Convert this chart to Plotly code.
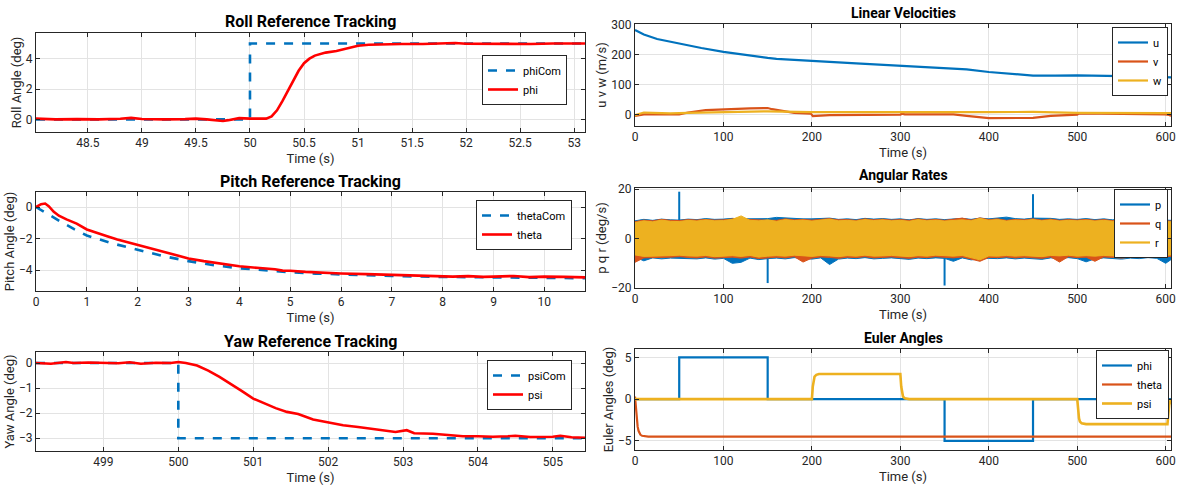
import plotly.graph_objects as go

# ---------------- data ----------------
# Roll reference tracking
roll_cmd_t = [48.02, 50.0, 50.0, 53.1]
roll_cmd = [0, 0, 5, 5]
roll_t = [48.02, 48.2, 48.4, 48.6, 48.8, 48.9, 49.0, 49.2, 49.4, 49.5, 49.6, 49.7, 49.75, 49.8,
          49.9, 50.0, 50.1, 50.15, 50.2, 50.25, 50.3, 50.35, 50.4, 50.45, 50.5, 50.55, 50.6, 50.7,
          50.8, 50.9, 51.0, 51.1, 51.2, 51.4, 51.6, 51.8, 51.9, 52.0, 52.2, 52.4, 52.6, 52.8, 53.0, 53.1]
roll_phi = [0.05, 0.0, 0.02, 0.0, 0.04, 0.1, 0.03, 0.0, 0.02, 0.05, 0.0, -0.06, -0.1, -0.05,
            0.08, 0.05, 0.02, 0.05, 0.2, 0.6, 1.2, 1.9, 2.6, 3.2, 3.7, 4.0, 4.2, 4.4,
            4.5, 4.68, 4.85, 4.92, 4.95, 4.97, 4.97, 5.0, 5.03, 4.98, 4.97, 5.0, 4.97, 5.0, 4.98, 5.0]

# Pitch reference tracking
pitch_cmd_t = [0, 0.25, 0.5, 0.75, 1, 1.5, 2, 2.5, 3, 3.5, 4, 4.5, 5, 5.5, 6, 7, 8, 9, 10, 10.8]
pitch_cmd = [0, -0.5, -0.95, -1.4, -1.8, -2.3, -2.72, -3.1, -3.42, -3.68, -3.87, -4.02, -4.13,
             -4.21, -4.27, -4.36, -4.42, -4.46, -4.48, -4.5]
pitch_t = [0, 0.1, 0.18, 0.25, 0.35, 0.45, 0.6, 0.8, 1.0, 1.2, 1.4, 1.6, 1.8, 2.0, 2.2, 2.5, 2.8,
           3.0, 3.3, 3.6, 4.0, 4.4, 4.7, 4.85, 5.0, 5.3, 5.6, 6.0, 6.5, 7.0, 7.5, 8.0, 8.2, 8.5,
           8.8, 9.0, 9.4, 9.7, 10.0, 10.4, 10.8]
pitch_theta = [0, 0.18, 0.22, 0.05, -0.3, -0.55, -0.78, -1.05, -1.42, -1.65, -1.85, -2.05, -2.22,
               -2.42, -2.6, -2.85, -3.1, -3.25, -3.42, -3.58, -3.75, -3.86, -3.93, -4.02, -4.03,
               -4.1, -4.15, -4.2, -4.24, -4.28, -4.32, -4.34, -4.4, -4.37, -4.42, -4.4, -4.36,
               -4.43, -4.4, -4.42, -4.45]

# Yaw reference tracking
yaw_cmd_t = [498.1, 500.0, 500.0, 505.43]
yaw_cmd = [0, 0, -3, -3]
yaw_t = [498.1, 498.3, 498.5, 498.6, 498.8, 499.0, 499.2, 499.35, 499.5, 499.7, 499.9, 500.0,
         500.1, 500.25, 500.4, 500.55, 500.7, 500.85, 501.0, 501.15, 501.3, 501.45, 501.6, 501.8,
         502.0, 502.2, 502.4, 502.6, 502.8, 502.9, 503.05, 503.15, 503.4, 503.6, 503.8, 504.0,
         504.2, 504.4, 504.5, 504.7, 505.0, 505.1, 505.25, 505.43]
yaw_psi = [0.0, -0.03, 0.04, 0.0, 0.02, 0.01, -0.01, 0.03, -0.03, 0.01, 0.0, 0.04,
           0.0, -0.1, -0.3, -0.55, -0.82, -1.12, -1.42, -1.62, -1.8, -1.95, -2.03, -2.25,
           -2.38, -2.48, -2.55, -2.63, -2.72, -2.75, -2.68, -2.8, -2.82, -2.88, -2.92, -2.92,
           -2.94, -2.92, -2.9, -2.95, -2.94, -2.9, -2.96, -2.98]

# Linear velocities
u_t = [0, 10, 25, 50, 75, 100, 125, 150, 160, 175, 200, 250, 300, 350, 375, 400, 425, 450, 475,
       500, 550, 606]
u_vals = [281, 266, 251, 235, 221, 208, 197, 188, 185, 182, 178, 170, 162, 155, 150, 141, 134,
          129, 129, 130, 127, 123]
v_t = [0, 5, 10, 50, 60, 80, 100, 130, 150, 155, 165, 180, 199, 201, 205, 220, 300, 302, 305,
       360, 375, 390, 400, 450, 470, 500, 502, 600, 604, 606]
v_vals = [-5, -2, 0, 0, 6, 14, 17, 20, 21, 17, 12, 5, 2, -6, -5, -3, -1, 2, 0, 0, -5, -11, -13,
          -12, -5, -1, 3, 0, -2, -6]
w_t = [0, 5, 10, 20, 40, 60, 100, 150, 200, 300, 400, 450, 500, 600, 606]
w_vals = [-3, 2, 6, 5, 3, 5, 8, 10, 7, 6, 7, 8, 5, 4, 4]

# Angular rates (noise envelopes read every 10 s)
rate_t = list(range(0, 601, 10)) + [606]
p_hi = [7.2, 7.8, 7.4, 7.9, 7.6, 7.5, 7.9, 7.7, 8.1, 7.8,
        7.9, 8.2, 8.0, 8.0, 7.8, 8.1, 8.6, 8.4, 7.9, 8.0,
        8.0, 8.1, 8.3, 7.8, 8.0, 7.7, 8.2, 7.9, 8.1, 7.8,
        8.0, 7.6, 8.1, 7.8, 8.0, 7.7, 8.1, 8.2, 7.8, 8.3,
        8.0, 8.4, 8.7, 8.1, 7.9, 8.3, 8.4, 8.2, 7.8, 8.0,
        7.8, 8.1, 7.7, 8.0, 7.6, 7.9, 7.7, 8.0, 7.6, 7.8,
        7.5, 7.4]
p_lo = [-7.5, -9.0, -7.8, -8.2, -7.9, -7.7, -8.1, -8.2, -7.8, -8.3,
        -8.0, -10.0, -9.6, -7.9, -8.5, -8.1, -7.9, -8.2, -7.7, -8.1,
        -8.3, -7.8, -10.5, -8.3, -7.9, -8.1, -7.7, -8.2, -8.0, -7.8,
        -8.1, -8.4, -7.9, -8.1, -7.8, -8.0, -9.2, -7.8, -8.6, -8.3,
        -8.0, -8.1, -7.8, -8.2, -7.9, -8.1, -8.4, -7.8, -8.0, -7.7,
        -8.1, -9.4, -8.2, -7.8, -8.0, -8.3, -7.9, -8.1, -7.7, -8.0,
        -10.0, -8.5]
p_spike_t = [50, 150, 350, 450]
p_spike_v = [19, -18, -19, 18]
q_hi = [6.9, 7.5, 7.2, 7.8, 7.4, 7.3, 7.7, 7.5, 7.8, 7.5,
        7.6, 8.0, 8.3, 7.7, 7.6, 7.8, 7.4, 8.0, 7.6, 7.8,
        7.5, 7.8, 8.1, 7.6, 7.7, 7.4, 8.0, 7.6, 7.9, 7.5,
        7.7, 7.4, 8.0, 7.5, 7.8, 7.4, 7.7, 8.3, 7.5, 8.4,
        7.7, 8.0, 7.4, 7.8, 7.6, 8.0, 7.5, 7.9, 7.4, 7.7,
        7.5, 7.8, 7.4, 7.7, 7.3, 7.6, 7.4, 7.7, 7.3, 7.5,
        7.2, 7.1]
q_lo = [-9.6, -7.8, -7.4, -7.6, -7.5, -7.3, -7.6, -7.8, -7.4, -7.9,
        -7.6, -7.5, -7.9, -7.4, -8.1, -7.7, -7.5, -7.8, -7.3, -9.5,
        -7.9, -7.4, -7.6, -8.0, -7.5, -7.7, -7.3, -7.8, -7.6, -7.4,
        -7.7, -8.0, -7.5, -7.7, -7.3, -7.6, -7.8, -7.4, -8.2, -9.2,
        -7.6, -7.7, -7.4, -7.8, -7.5, -7.7, -8.0, -7.4, -9.5, -7.3,
        -7.7, -7.5, -9.2, -7.4, -7.6, -7.9, -7.5, -7.7, -7.3, -7.6,
        -7.4, -7.2]
r_hi = [6.5, 7.2, 6.8, 7.5, 7.0, 6.9, 7.4, 7.1, 7.6, 7.2,
        7.3, 7.8, 9.2, 7.4, 7.2, 7.6, 7.0, 7.7, 7.3, 7.5,
        7.1, 7.6, 7.9, 7.2, 7.4, 7.1, 7.7, 7.3, 7.6, 7.2,
        7.4, 7.0, 7.7, 7.2, 7.5, 7.1, 7.4, 7.6, 7.2, 8.2,
        7.4, 7.7, 7.1, 7.5, 7.3, 7.7, 7.2, 7.6, 7.1, 7.4,
        7.2, 7.5, 7.1, 7.4, 7.0, 7.3, 7.1, 7.4, 7.0, 7.2,
        6.9, 6.8]
r_lo = [-6.6, -7.2, -6.8, -7.0, -6.9, -6.7, -7.0, -7.1, -6.8, -7.3,
        -7.0, -6.9, -7.2, -6.8, -7.5, -7.1, -6.9, -7.1, -6.7, -7.0,
        -7.2, -6.8, -7.0, -7.3, -6.9, -7.1, -6.7, -7.1, -7.0, -6.8,
        -7.0, -7.3, -6.9, -7.1, -6.7, -7.0, -7.1, -6.8, -7.6, -8.6,
        -7.0, -7.1, -6.8, -7.1, -6.9, -7.1, -7.3, -6.8, -7.0, -6.7,
        -7.1, -6.9, -7.1, -6.8, -7.0, -7.2, -6.9, -7.1, -6.7, -7.0,
        -6.8, -6.6]

# Euler angles
eu_phi_t = [0, 50, 50, 150, 150, 350, 350, 450, 450, 606]
eu_phi = [0, 0, 5, 5, 0, 0, -5, -5, 0, 0]
eu_theta_t = [0, 1, 2, 3, 4, 5, 6, 8, 10, 12, 15, 20, 50, 100, 150, 200, 300, 400, 500, 606]
eu_theta = [0.3, -1.2, -2.5, -3.3, -3.8, -4.1, -4.25, -4.4, -4.45, -4.48, -4.5, -4.5, -4.52,
            -4.5, -4.5, -4.5, -4.5, -4.52, -4.5, -4.5]
eu_psi_t = [0, 200, 201, 202, 203, 205, 208, 215, 300, 301, 302, 303, 305, 310, 500, 501, 502,
            503, 505, 510, 602, 603, 604, 606]
eu_psi = [0, 0, 1.5, 2.3, 2.7, 2.9, 3.0, 3.0, 3.0, 1.5, 0.7, 0.3, 0.1, 0, 0, -1.5, -2.3, -2.7,
          -2.9, -3.0, -3.0, -1.8, -0.7, 0]

# ---------------- styling ----------------
W, H = 1186, 490
BLUE, ORANGE, YELLOW, RED = "#0072BD", "#D95319", "#EDB120", "#FF0000"
AX = "#262626"
FONT = "Roboto"

def px_x(a, b):
    return [a / W, b / W]

def px_y(top, bottom):
    return [1 - bottom / H, 1 - top / H]

LX = px_x(36, 585)
RX = px_x(635, 1171)
dom = {
    1: (LX, px_y(33, 132)),
    2: (LX, px_y(192, 291)),
    3: (LX, px_y(352, 451)),
    4: (RX, px_y(24, 126)),
    5: (RX, px_y(188, 288)),
    6: (RX, px_y(349, 450)),
}

fig = go.Figure()

def add(i, x, y, name, color, width=2.2, dash=None, legend=True):
    fig.add_trace(go.Scatter(
        x=x, y=y, name=name, mode="lines",
        line=dict(color=color, width=width, dash=dash),
        xaxis="x" if i == 1 else f"x{i}", yaxis="y" if i == 1 else f"y{i}",
        legend="legend" if i == 1 else f"legend{i}", showlegend=legend))

# Roll
add(1, roll_cmd_t, roll_cmd, "phiCom", BLUE, 2.6, "dash")
add(1, roll_t, roll_phi, "phi", RED, 2.6)
# Pitch
add(2, pitch_cmd_t, pitch_cmd, "thetaCom", BLUE, 2.6, "dash")
add(2, pitch_t, pitch_theta, "theta", RED, 2.6)
# Yaw
add(3, yaw_cmd_t, yaw_cmd, "psiCom", BLUE, 2.6, "dash")
add(3, yaw_t, yaw_psi, "psi", RED, 2.6)
# Linear velocities
add(4, u_t, u_vals, "u", BLUE, 2.2)
add(4, v_t, v_vals, "v", ORANGE, 2.2)
add(4, w_t, w_vals, "w", YELLOW, 2.2)

# Angular rates: noise bands
def band(hi, lo, color):
    fig.add_trace(go.Scatter(
        x=rate_t + rate_t[::-1], y=hi + lo[::-1], mode="lines", fill="toself",
        fillcolor=color, line=dict(color=color, width=1),
        xaxis="x5", yaxis="y5", showlegend=False, hoverinfo="skip"))

band(p_hi, p_lo, BLUE)
sx, sy = [], []
for t, v in zip(p_spike_t, p_spike_v):
    sx += [t, t, None]
    sy += [0, v, None]
fig.add_trace(go.Scatter(x=sx, y=sy, mode="lines", line=dict(color=BLUE, width=2),
                         xaxis="x5", yaxis="y5", showlegend=False))
band(q_hi, q_lo, ORANGE)
band(r_hi, r_lo, YELLOW)
for nm, c in (("p", BLUE), ("q", ORANGE), ("r", YELLOW)):
    add(5, [None], [None], nm, c, 2.2)

# Euler angles
add(6, eu_phi_t, eu_phi, "phi", BLUE, 2.2)
add(6, eu_theta_t, eu_theta, "theta", ORANGE, 2.2)
add(6, eu_psi_t, eu_psi, "psi", YELLOW, 2.6)

axis_common = dict(showline=True, linecolor=AX, linewidth=1, mirror="ticks", ticks="inside",
                   ticklen=4, tickcolor=AX, showgrid=True, gridcolor="#e3e3e3", gridwidth=1,
                   zeroline=False, automargin=False,
                   tickfont=dict(size=12, color=AX, family=FONT))

xcfg = {
    1: dict(range=[48.02, 53.1], tickvals=[48.5, 49, 49.5, 50, 50.5, 51, 51.5, 52, 52.5, 53]),
    2: dict(range=[0, 10.8], tickvals=list(range(0, 11))),
    3: dict(range=[498.1, 505.43], tickvals=list(range(499, 506))),
    4: dict(range=[0, 606], tickvals=list(range(0, 601, 100))),
    5: dict(range=[0, 606], tickvals=list(range(0, 601, 100))),
    6: dict(range=[0, 606], tickvals=list(range(0, 601, 100))),
}
ycfg = {
    1: dict(range=[-0.83, 5.69], tickvals=[0, 2, 4], title="Roll Angle (deg)"),
    2: dict(range=[-5.31, 0.95], tickvals=[-4, -2, 0], title="Pitch Angle (deg)"),
    3: dict(range=[-3.51, 0.44], tickvals=[-3, -2, -1, 0], title="Yaw Angle (deg)"),
    4: dict(range=[-39, 301], tickvals=[0, 100, 200, 300], title="u v w (m/s)"),
    5: dict(range=[-20, 20.5], tickvals=[-20, 0, 20], title="p q r (deg/s)"),
    6: dict(range=[-6.1, 6.0], tickvals=[-5, 0, 5], title="Euler Angles (deg)"),
}

layout = dict(width=W, height=H, margin=dict(l=0, r=0, t=0, b=0, autoexpand=False),
              paper_bgcolor="white", plot_bgcolor="white",
              font=dict(family=FONT, size=12, color=AX))

for i in range(1, 7):
    xs = "" if i == 1 else str(i)
    xd, yd = dom[i]
    xa = dict(axis_common, domain=xd, anchor=f"y{xs}", range=xcfg[i]["range"],
              tickvals=xcfg[i]["tickvals"],
              title=dict(text="Time (s)", font=dict(size=13, color=AX, family=FONT), standoff=4))
    ya = dict(axis_common, domain=yd, anchor=f"x{xs}", range=ycfg[i]["range"],
              tickvals=ycfg[i]["tickvals"],
              title=dict(text=ycfg[i]["title"], font=dict(size=13, color=AX, family=FONT), standoff=1))
    layout[f"xaxis{xs}"] = xa
    layout[f"yaxis{xs}"] = ya

leg_pos = {1: (567, 55), 2: (572, 200), 3: (572, 360), 4: (1168, 27), 5: (1168, 189), 6: (1169, 350)}
for i, (lx, ly) in leg_pos.items():
    key = "legend" if i == 1 else f"legend{i}"
    layout[key] = dict(x=lx / W, y=1 - ly / H, xanchor="right", yanchor="top",
                       bgcolor="white", bordercolor=AX, borderwidth=1, tracegroupgap=0,
                       font=dict(size=11, color="#000000", family=FONT), itemwidth=30)

titles = [
    ("Roll Reference Tracking", 1, 21.5, 16),
    ("Pitch Reference Tracking", 2, 181, 16),
    ("Yaw Reference Tracking", 3, 341.5, 16),
    ("Linear Velocities", 4, 13, 14),
    ("Angular Rates", 5, 175.5, 14),
    ("Euler Angles", 6, 338, 14),
]
annotations = []
for txt, i, ypx, fs in titles:
    xd = dom[i][0]
    annotations.append(dict(text=f"<b>{txt}</b>", x=(xd[0] + xd[1]) / 2, y=1 - ypx / H,
                            xref="paper", yref="paper", xanchor="center", yanchor="middle",
                            showarrow=False, font=dict(size=fs, color="#000000", family=FONT)))
layout["annotations"] = annotations

fig.update_layout(**layout)
fig.write_html("out.html", config={"displayModeBar": False},
               post_script="document.body.style.margin='0';document.body.style.overflow='hidden';")
